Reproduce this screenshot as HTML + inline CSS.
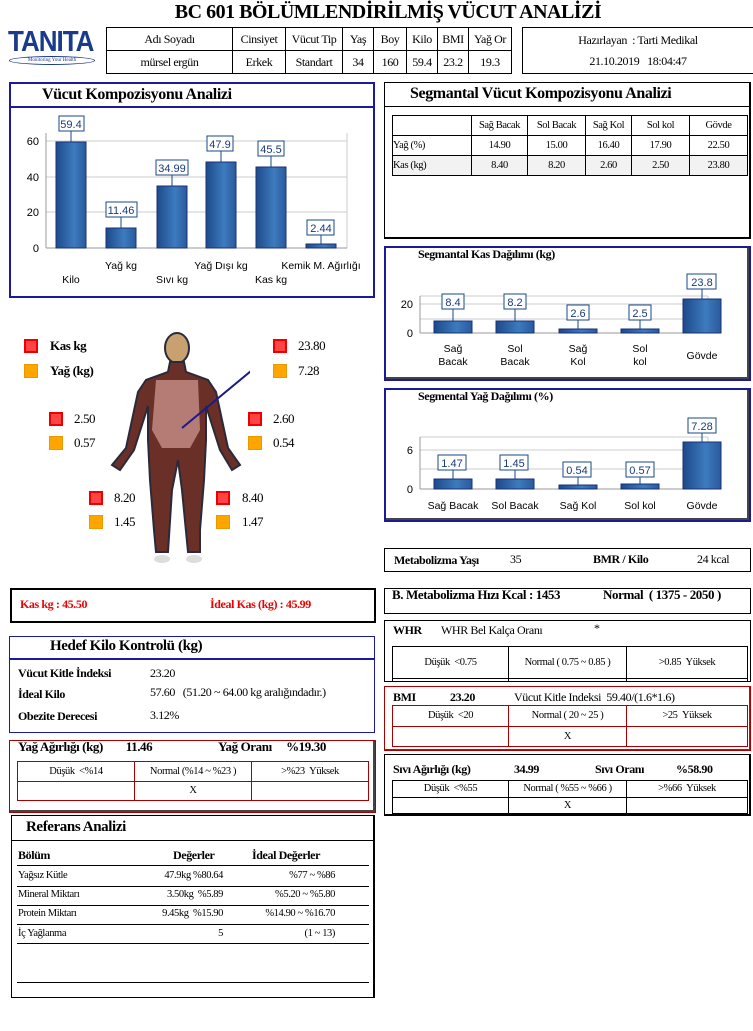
<!DOCTYPE html>
<html><head><meta charset="utf-8"><style>
*{margin:0;padding:0;box-sizing:border-box}
body{width:753px;height:1031px;background:#fff;position:relative;overflow:hidden;font-family:"Liberation Serif",serif;font-size:12px;color:#000}
.a{position:absolute}
.b{position:absolute;border:1px solid #000}
.t{position:absolute;white-space:nowrap;letter-spacing:-0.4px}
.bold{font-weight:bold}
.c{text-align:center}
table{border-collapse:collapse;position:absolute;font-size:11px;letter-spacing:-0.4px}
td{border:1px solid #000;text-align:center;padding:0}
.rt td{border-color:#a00}
.sq{position:absolute;width:14px;height:14px}
.r{background:#f44;border:2px solid #e00}
.o{background:#ffa500;border:1px solid #e89b00}
.sans{font-family:"Liberation Sans",sans-serif}
</style></head><body>

<div class="t bold c" style="left:0;width:776px;top:1px;font-size:20px;letter-spacing:-0.5px">BC 601 BÖLÜMLENDİRİLMİŞ VÜCUT ANALİZİ</div>
<div class="t bold sans" style="left:8px;top:26px;font-size:26px;color:#1a3a8c;letter-spacing:-1px;transform:scaleY(1.1)">TANITA</div>
<div class="a" style="left:9px;top:56px;width:86px;height:9px;border:1px solid #1a3a8c;border-radius:50%;font-size:5px;color:#1a3a8c;text-align:center;line-height:7px">Monitoring Your Health</div>

<table style="left:106px;top:27px;width:406px;height:47px;font-size:12px">
<tr><td style="width:126px">Adı Soyadı</td><td style="width:53px">Cinsiyet</td><td style="width:57px">Vücut Tip</td><td style="width:31px">Yaş</td><td style="width:33px">Boy</td><td style="width:31px">Kilo</td><td style="width:31px">BMI</td><td>Yağ Or</td></tr>
<tr><td>mürsel ergün</td><td>Erkek</td><td>Standart</td><td>34</td><td>160</td><td>59.4</td><td>23.2</td><td>19.3</td></tr>
</table>
<div class="b" style="left:522px;top:27px;width:232px;height:47px"></div>
<div class="t c" style="left:522px;width:232px;top:33px">Hazırlayan &nbsp;: Tarti Medikal</div>
<div class="t c" style="left:522px;width:232px;top:54px">21.10.2019 &nbsp;&nbsp;18:04:47</div>

<!-- Vucut kompozisyonu -->
<div class="a" style="left:9px;top:82px;width:366px;height:216px;border:2px solid #1a1a9a"></div>
<div class="a" style="left:9px;top:106px;width:366px;height:2px;background:#1a1a9a"></div>
<div class="t bold" style="left:42px;top:86px;font-size:16px">Vücut Kompozisyonu Analizi</div>
<svg class="a" style="left:9px;top:108px" width="366" height="188" font-family="Liberation Sans, sans-serif" font-size="11">
<defs><linearGradient id="g" x1="0" x2="1"><stop offset="0" stop-color="#1d4a8a"/><stop offset="0.6" stop-color="#3d7bbf"/><stop offset="1" stop-color="#2a5a9c"/></linearGradient></defs>
<g stroke="#ccc"><line x1="37" y1="33" x2="338" y2="33"/><line x1="37" y1="69" x2="338" y2="69"/><line x1="37" y1="104" x2="338" y2="104"/><line x1="338" y1="25" x2="338" y2="140"/></g>
<line x1="37" y1="25" x2="37" y2="140" stroke="#999"/><line x1="37" y1="140" x2="338" y2="140" stroke="#999"/>
<g fill="#000" text-anchor="end"><text x="30" y="37">60</text><text x="30" y="73">40</text><text x="30" y="108">20</text><text x="30" y="144">0</text></g>
<g stroke="#1a2f7a" fill="url(#g)">
<rect x="47" y="34" width="30" height="106"/><rect x="97" y="120" width="30" height="20"/><rect x="148" y="78" width="30" height="62"/><rect x="197" y="54" width="30" height="86"/><rect x="247" y="59" width="30" height="81"/><rect x="297" y="136" width="30" height="4"/></g>
<g stroke="#1a4a8a" fill="#fff"><line x1="62" y1="34" x2="62" y2="22"/><line x1="112" y1="120" x2="112" y2="108"/><line x1="163" y1="78" x2="163" y2="66"/><line x1="212" y1="54" x2="212" y2="42"/><line x1="262" y1="59" x2="262" y2="47"/><line x1="312" y1="136" x2="312" y2="126"/>
<rect x="50" y="8" width="25" height="15"/><rect x="97" y="94" width="31" height="15"/><rect x="147" y="52" width="32" height="15"/><rect x="198" y="28" width="26" height="15"/><rect x="249" y="33" width="26" height="15"/><rect x="298" y="112" width="27" height="15"/></g>
<g fill="#1a3a7a" text-anchor="middle"><text x="62" y="20">59.4</text><text x="112" y="106">11.46</text><text x="163" y="64">34.99</text><text x="211" y="40">47.9</text><text x="262" y="45">45.5</text><text x="312" y="124">2.44</text></g>
<g fill="#000" text-anchor="middle" font-size="10.5"><text x="62" y="175">Kilo</text><text x="112" y="161">Yağ kg</text><text x="163" y="175">Sıvı kg</text><text x="212" y="161">Yağ Dışı kg</text><text x="262" y="175">Kas kg</text><text x="312" y="161">Kemik M. Ağırlığı</text></g>
</svg>

<!-- Segmental table -->
<div class="b" style="left:384px;top:82px;width:367px;height:157px;border-width:1px 2px 2px 1px"></div>
<div class="a" style="left:384px;top:106px;width:367px;height:1px;background:#000"></div>
<div class="t bold" style="left:410px;top:85px;font-size:16px">Segmantal Vücut Kompozisyonu Analizi</div>
<table style="left:392px;top:115px;width:356px;height:61px;font-size:10.5px">
<tr><td style="width:79px"></td><td style="width:56px">Sağ Bacak</td><td style="width:58px">Sol Bacak</td><td style="width:46px">Sağ Kol</td><td style="width:58px">Sol kol</td><td>Gövde</td></tr>
<tr><td style="text-align:left">Yağ (%)</td><td>14.90</td><td>15.00</td><td>16.40</td><td>17.90</td><td>22.50</td></tr>
<tr style="background:#f2f2f2"><td style="text-align:left">Kas (kg)</td><td>8.40</td><td>8.20</td><td>2.60</td><td>2.50</td><td>23.80</td></tr>
</table>

<!-- Kas dagilimi -->
<div class="a" style="left:384px;top:246px;width:367px;height:135px;border:2px solid #1a1a9a;box-shadow:inset -2px -2px 0 #444"></div>
<div class="t bold" style="left:418px;top:247px;font-size:12px">Segmantal Kas Dağılımı (kg)</div>
<svg class="a" style="left:386px;top:248px" width="363" height="131" font-family="Liberation Sans, sans-serif" font-size="11">
<g stroke="#ccc"><line x1="34" y1="48" x2="322" y2="48"/><line x1="34" y1="56" x2="322" y2="56"/><line x1="34" y1="71" x2="322" y2="71"/><line x1="322" y1="48" x2="322" y2="85"/></g>
<line x1="34" y1="48" x2="34" y2="85" stroke="#999"/><line x1="34" y1="85" x2="322" y2="85" stroke="#999"/>
<g text-anchor="end"><text x="27" y="60">20</text><text x="27" y="89">0</text></g>
<g stroke="#1a2f7a" fill="url(#g)"><rect x="48" y="73" width="38" height="12"/><rect x="110" y="73" width="38" height="12"/><rect x="173" y="81" width="38" height="4"/><rect x="235" y="81" width="38" height="4"/><rect x="297" y="51" width="38" height="34"/></g>
<g stroke="#1a4a8a" fill="#fff"><line x1="67" y1="73" x2="67" y2="60"/><line x1="129" y1="73" x2="129" y2="60"/><line x1="192" y1="81" x2="192" y2="71"/><line x1="254" y1="81" x2="254" y2="71"/><line x1="316" y1="51" x2="316" y2="40"/>
<rect x="56" y="46" width="22" height="15"/><rect x="118" y="46" width="22" height="15"/><rect x="181" y="57" width="22" height="15"/><rect x="243" y="57" width="22" height="15"/><rect x="301" y="26" width="29" height="15"/></g>
<g fill="#1a3a7a" text-anchor="middle"><text x="67" y="58">8.4</text><text x="129" y="58">8.2</text><text x="192" y="69">2.6</text><text x="254" y="69">2.5</text><text x="316" y="38">23.8</text></g>
<g text-anchor="middle" font-size="10.5"><text x="67" y="104">Sağ</text><text x="67" y="117">Bacak</text><text x="129" y="104">Sol</text><text x="129" y="117">Bacak</text><text x="192" y="104">Sağ</text><text x="192" y="117">Kol</text><text x="254" y="104">Sol</text><text x="254" y="117">kol</text><text x="316" y="111">Gövde</text></g>
</svg>

<!-- Yag dagilimi -->
<div class="a" style="left:384px;top:388px;width:367px;height:134px;border:2px solid #1a1a9a;box-shadow:inset -2px -2px 0 #444"></div>
<div class="t bold" style="left:418px;top:389px;font-size:12px">Segmental Yağ Dağılımı (%)</div>
<svg class="a" style="left:386px;top:390px" width="363" height="130" font-family="Liberation Sans, sans-serif" font-size="11">
<g stroke="#ccc"><line x1="34" y1="47" x2="322" y2="47"/><line x1="34" y1="60" x2="322" y2="60"/><line x1="34" y1="79" x2="322" y2="79"/><line x1="322" y1="47" x2="322" y2="99"/></g>
<line x1="34" y1="47" x2="34" y2="99" stroke="#999"/><line x1="34" y1="99" x2="322" y2="99" stroke="#999"/>
<g text-anchor="end"><text x="27" y="64">6</text><text x="27" y="103">0</text></g>
<g stroke="#1a2f7a" fill="url(#g)"><rect x="48" y="89" width="38" height="10"/><rect x="110" y="89" width="38" height="10"/><rect x="173" y="95" width="38" height="4"/><rect x="235" y="94" width="38" height="5"/><rect x="297" y="52" width="38" height="47"/></g>
<g stroke="#1a4a8a" fill="#fff"><line x1="67" y1="89" x2="67" y2="80"/><line x1="129" y1="89" x2="129" y2="80"/><line x1="192" y1="95" x2="192" y2="86"/><line x1="254" y1="94" x2="254" y2="86"/><line x1="316" y1="52" x2="316" y2="43"/>
<rect x="52" y="65" width="28" height="15"/><rect x="114" y="65" width="28" height="15"/><rect x="177" y="72" width="28" height="15"/><rect x="240" y="72" width="28" height="15"/><rect x="302" y="28" width="28" height="15"/></g>
<g fill="#1a3a7a" text-anchor="middle"><text x="66" y="77">1.47</text><text x="128" y="77">1.45</text><text x="191" y="84">0.54</text><text x="254" y="84">0.57</text><text x="316" y="40">7.28</text></g>
<g text-anchor="middle" font-size="10.5"><text x="67" y="119">Sağ Bacak</text><text x="129" y="119">Sol Bacak</text><text x="192" y="119">Sağ Kol</text><text x="254" y="119">Sol kol</text><text x="316" y="119">Gövde</text></g>
</svg>

<!-- body -->
<svg class="a" style="left:100px;top:330px" width="150" height="235">
<g fill="#6a3028" stroke="#2a2a3a" stroke-width="2">
<ellipse cx="77" cy="18" rx="12" ry="15" fill="#c9a070"/>
<path d="M70 32 L84 32 L86 42 L108 50 L116 62 L128 118 L140 135 L132 140 L120 120 L106 76 L106 110 L104 150 L100 200 L100 222 L88 222 L82 160 L78 130 L72 160 L68 222 L56 222 L54 200 L50 150 L48 110 L48 76 L34 120 L20 140 L12 135 L26 118 L38 62 L46 50 L68 42 Z"/>
</g>
<path d="M56 50 L98 50 L100 100 L90 118 L62 118 L52 100 Z" fill="#c8908a" opacity="0.8"/>
<ellipse cx="62" cy="229" rx="8" ry="4" fill="#ddd"/><ellipse cx="94" cy="229" rx="8" ry="4" fill="#ddd"/>
<line x1="180" y1="17" x2="82" y2="98" stroke="#1a1a8a" stroke-width="2"/>
</svg>
<div class="sq r" style="left:24px;top:339px"></div><div class="t bold" style="left:50px;top:338px;font-size:13px">Kas kg</div>
<div class="sq o" style="left:24px;top:364px"></div><div class="t bold" style="left:50px;top:363px;font-size:13px">Yağ (kg)</div>
<div class="sq r" style="left:273px;top:339px"></div><div class="t" style="left:298px;top:338px;font-size:13px">23.80</div>
<div class="sq o" style="left:273px;top:364px"></div><div class="t" style="left:298px;top:363px;font-size:13px">7.28</div>
<div class="sq r" style="left:49px;top:412px"></div><div class="t" style="left:74px;top:411px;font-size:13px">2.50</div>
<div class="sq o" style="left:49px;top:436px"></div><div class="t" style="left:74px;top:435px;font-size:13px">0.57</div>
<div class="sq r" style="left:248px;top:412px"></div><div class="t" style="left:273px;top:411px;font-size:13px">2.60</div>
<div class="sq o" style="left:248px;top:436px"></div><div class="t" style="left:273px;top:435px;font-size:13px">0.54</div>
<div class="sq r" style="left:89px;top:491px"></div><div class="t" style="left:114px;top:490px;font-size:13px">8.20</div>
<div class="sq o" style="left:89px;top:515px"></div><div class="t" style="left:114px;top:514px;font-size:13px">1.45</div>
<div class="sq r" style="left:216px;top:491px"></div><div class="t" style="left:242px;top:490px;font-size:13px">8.40</div>
<div class="sq o" style="left:216px;top:515px"></div><div class="t" style="left:242px;top:514px;font-size:13px">1.47</div>

<!-- Kas box -->
<div class="a" style="left:10px;top:588px;width:366px;height:35px;border:2px solid #000"></div>
<div class="t bold" style="left:20px;top:597px;color:#e00;font-size:12px">Kas kg : 45.50</div>
<div class="t bold" style="left:210px;top:597px;color:#e00;font-size:12px">İdeal Kas (kg) : 45.99</div>

<!-- Hedef -->
<div class="a" style="left:9px;top:636px;width:366px;height:97px;border:1px solid #1a1a9a"></div>
<div class="a" style="left:9px;top:658px;width:366px;height:2px;background:#1a1a9a"></div>
<div class="t bold" style="left:50px;top:638px;font-size:15px">Hedef Kilo Kontrolü (kg)</div>
<div class="t bold" style="left:18px;top:666px">Vücut Kitle İndeksi</div><div class="t" style="left:150px;top:666px">23.20</div>
<div class="t bold" style="left:18px;top:687px">İdeal Kilo</div><div class="t" style="left:150px;top:685px">57.60 &nbsp;&nbsp;(51.20 ~ 64.00 kg aralığındadır.)</div>
<div class="t bold" style="left:18px;top:709px">Obezite Derecesi</div><div class="t" style="left:150px;top:708px">3.12%</div>

<!-- Yag agirligi -->
<div class="a" style="left:9px;top:740px;width:367px;height:73px;border:1px solid #a00;box-shadow:inset -2px -2px 0 #444"></div>
<div class="t bold" style="left:18px;top:739px;font-size:13px">Yağ Ağırlığı (kg) &nbsp;&nbsp;&nbsp;&nbsp;&nbsp;&nbsp;&nbsp;11.46</div>
<div class="t bold" style="left:218px;top:739px;font-size:13px">Yağ Oranı &nbsp;&nbsp;&nbsp;&nbsp;%19.30</div>
<table class="rt" style="left:17px;top:761px;width:352px;height:40px;font-size:10.5px"><tr><td style="width:117px">Düşük &nbsp;&lt;%14</td><td style="width:117px">Normal (%14 ~ %23 )</td><td>&gt;%23 &nbsp;Yüksek</td></tr><tr><td></td><td>X</td><td></td></tr></table>

<!-- Referans -->
<div class="a" style="left:11px;top:815px;width:364px;height:183px;border:1px solid #000;border-right-width:2px"></div>
<div class="a" style="left:11px;top:840px;width:364px;height:1px;background:#000"></div>
<div class="t bold" style="left:26px;top:819px;font-size:15px">Referans Analizi</div>
<div class="t bold" style="left:18px;top:848px">Bölüm</div><div class="t bold" style="left:173px;top:848px">Değerler</div><div class="t bold" style="left:252px;top:848px">İdeal Değerler</div>
<div class="a" style="left:17px;top:865px;width:352px;height:1px;background:#000"></div>
<div class="t" style="left:18px;top:870px;font-size:10.5px">Yağsız Kütle</div><div class="t" style="right:530px;top:870px;font-size:10.5px">47.9kg %80.64</div><div class="t" style="right:418px;top:870px;font-size:10.5px">%77 ~ %86</div>
<div class="a" style="left:17px;top:886px;width:352px;height:1px;background:#000"></div>
<div class="t" style="left:18px;top:889px;font-size:10.5px">Mineral Miktarı</div><div class="t" style="right:530px;top:889px;font-size:10.5px">3.50kg &nbsp;%5.89</div><div class="t" style="right:418px;top:889px;font-size:10.5px">%5.20 ~ %5.80</div>
<div class="a" style="left:17px;top:905px;width:352px;height:1px;background:#000"></div>
<div class="t" style="left:18px;top:908px;font-size:10.5px">Protein Miktarı</div><div class="t" style="right:530px;top:908px;font-size:10.5px">9.45kg &nbsp;%15.90</div><div class="t" style="right:418px;top:908px;font-size:10.5px">%14.90 ~ %16.70</div>
<div class="a" style="left:17px;top:924px;width:352px;height:1px;background:#000"></div>
<div class="t" style="left:18px;top:928px;font-size:10.5px">İç Yağlanma</div><div class="t" style="right:530px;top:928px;font-size:10.5px">5</div><div class="t" style="right:418px;top:928px;font-size:10.5px">(1 ~ 13)</div>
<div class="a" style="left:17px;top:943px;width:352px;height:1px;background:#000"></div>
<div class="a" style="left:17px;top:982px;width:352px;height:1px;background:#000"></div>

<!-- right column -->
<div class="b" style="left:384px;top:548px;width:367px;height:24px"></div>
<div class="t bold" style="left:394px;top:553px">Metabolizma Yaşı</div><div class="t" style="left:510px;top:552px">35</div>
<div class="t bold" style="left:593px;top:552px">BMR / Kilo</div><div class="t" style="left:697px;top:552px">24 kcal</div>

<div class="b" style="left:384px;top:588px;width:367px;height:26px"></div>
<div class="t bold" style="left:392px;top:587px;font-size:13px">B. Metabolizma Hızı Kcal : 1453</div>
<div class="t bold" style="left:603px;top:587px;font-size:13px">Normal &nbsp;( 1375 - 2050 )</div>

<div class="b" style="left:384px;top:620px;width:367px;height:62px"></div>
<div class="t bold" style="left:393px;top:623px">WHR</div><div class="t" style="left:441px;top:623px">WHR Bel Kalça Oranı</div><div class="t" style="left:594px;top:621px">*</div>
<table style="left:392px;top:646px;width:356px;height:36px;font-size:10.5px"><tr><td style="width:116px">Düşük &nbsp;&lt;0.75</td><td style="width:118px">Normal ( 0.75 ~ 0.85 )</td><td>&gt;0.85 &nbsp;Yüksek</td></tr><tr><td></td><td></td><td></td></tr></table>

<div class="a" style="left:384px;top:686px;width:367px;height:65px;border:1px solid #a00;box-shadow:inset -1px -1px 0 #444"></div>
<div class="t bold" style="left:393px;top:690px">BMI</div><div class="t bold" style="left:450px;top:690px">23.20</div><div class="t" style="left:514px;top:690px">Vücut Kitle Indeksi &nbsp;59.40/(1.6*1.6)</div>
<table class="rt" style="left:392px;top:705px;width:356px;height:42px;font-size:10.5px"><tr><td style="width:116px">Düşük &nbsp;&lt;20</td><td style="width:118px">Normal ( 20 ~ 25 )</td><td>&gt;25 &nbsp;Yüksek</td></tr><tr><td></td><td>X</td><td></td></tr></table>

<div class="b" style="left:384px;top:754px;width:367px;height:62px;border-width:1px 2px 2px 1px"></div>
<div class="t bold" style="left:393px;top:762px">Sıvı Ağırlığı (kg)</div><div class="t bold" style="left:514px;top:762px">34.99</div><div class="t bold" style="left:595px;top:762px">Sıvı Oranı</div><div class="t bold" style="left:676px;top:762px">%58.90</div>
<table style="left:392px;top:780px;width:356px;height:34px;font-size:10.5px"><tr><td style="width:116px">Düşük &nbsp;&lt;%55</td><td style="width:118px">Normal ( %55 ~ %66 )</td><td>&gt;%66 &nbsp;Yüksek</td></tr><tr><td></td><td>X</td><td></td></tr></table>

</body></html>
